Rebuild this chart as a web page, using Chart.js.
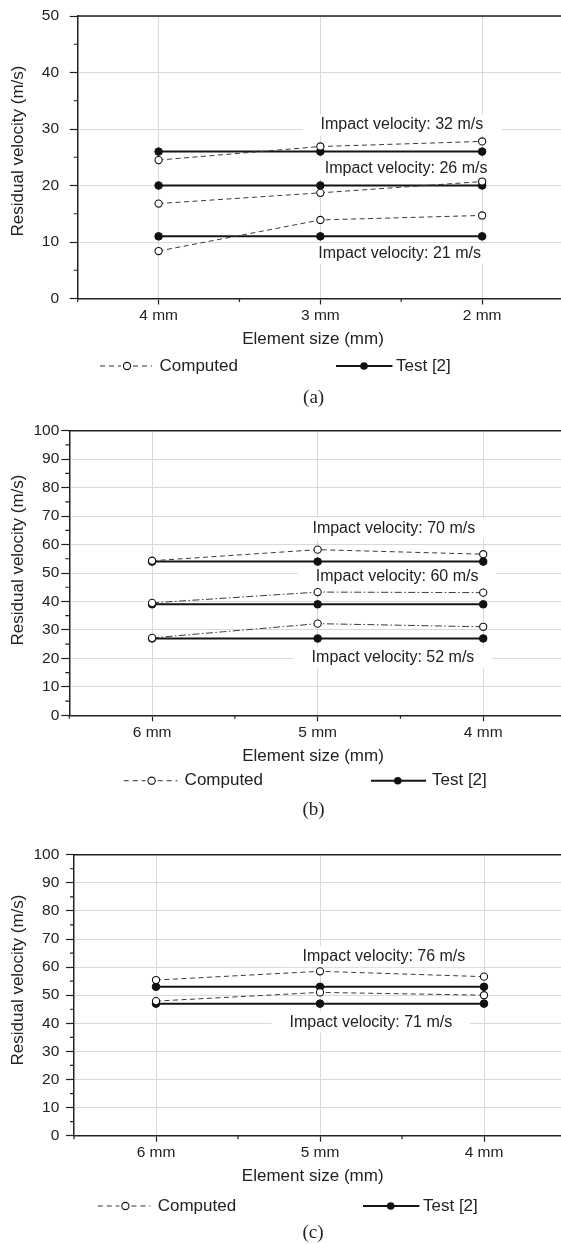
<!DOCTYPE html>
<html>
<head>
<meta charset="utf-8">
<script src="https://cdn.jsdelivr.net/npm/chart.js@4.4.1/dist/chart.umd.min.js"></script>
<style>
  html, body { margin: 0; padding: 0; background: #fff; }
  body { width: 561px; height: 1244px; position: relative; overflow: hidden; }
  .panel { position: absolute; left: 0; width: 561px; overflow: hidden; }
  canvas { display: block; }
</style>
</head>
<body>
<div class="panel" style="top:0px;height:410px"><canvas id="ca" width="563" height="410" style="width:563px;height:410px"></canvas></div>
<div class="panel" style="top:410px;height:420px"><canvas id="cb" width="566" height="420" style="width:566px;height:420px"></canvas></div>
<div class="panel" style="top:830px;height:414px"><canvas id="cc" width="566" height="414" style="width:566px;height:414px"></canvas></div>
<script>
// ---------------- data ----------------
const categoriesA = ['4 mm', '3 mm', '2 mm'];
const categoriesBC = ['6 mm', '5 mm', '4 mm'];
const yTicksA = [0, 10, 20, 30, 40, 50];
const yTicksBC = [0, 10, 20, 30, 40, 50, 60, 70, 80, 90, 100];

// panel (a)
const computedA32 = [24.5, 26.9, 27.8];
const computedA26 = [16.8, 18.7, 20.7];
const computedA21 = [8.4, 13.9, 14.7];
const testA32 = [26, 26, 26];
const testA26 = [20, 20, 20];
const testA21 = [11, 11, 11];
const labelsA = ['Impact velocity: 32 m/s', 'Impact velocity: 26 m/s', 'Impact velocity: 21 m/s'];

// panel (b)
const computedB70 = [54.3, 58.2, 56.6];
const computedB60 = [39.5, 43.3, 43.1];
const computedB52 = [27.2, 32.2, 31.1];
const testB70 = [54, 54, 54];
const testB60 = [39, 39, 39];
const testB52 = [27, 27, 27];
const labelsB = ['Impact velocity: 70 m/s', 'Impact velocity: 60 m/s', 'Impact velocity: 52 m/s'];

// panel (c)
const computedC76 = [55.4, 58.5, 56.6];
const computedC71 = [47.9, 51.0, 50.0];
const testC76 = [53, 53, 53];
const testC71 = [47, 47, 47];
const labelsC = ['Impact velocity: 76 m/s', 'Impact velocity: 71 m/s'];

const legendComputed = 'Computed';
const legendTest = 'Test [2]';
const xTitle = 'Element size (mm)';
const yTitle = 'Residual velocity (m/s)';

// ---------------- layout / style ----------------
const SANS = "'Liberation Sans', Arial, Helvetica, sans-serif";
const SERIF = "'Liberation Serif', 'Times New Roman', serif";
const AXIS = '#222';
const GRID = '#d9d9d9';
const DASH = [5, 3.5];
const DASHDOT = [7, 2.5, 1.5, 2.5];

const panels = [
  { id: 'ca', H: 410, top: 16, bottom: 298.5, left: 77.7, yMax: 50, yTicks: yTicksA, yPad: 10.7,
    cats: categoriesA,
    computed: [computedA32, computedA26, computedA21], dashes: [DASH, DASH, DASH],
    tests: [testA32, testA26, testA21],
    labels: labelsA, labelAt: [[2.504, 30.7], [2.53, 23.0], [2.49, 7.9]],
    legY: 366, legC: [100, 152, 127, 159.5], legT: [336, 392.5, 364, 396],
    xTitleX: 313, yTitleY: 151, caption: '(a)', capX: 313.6, capY: 398 },
  { id: 'cb', H: 420, top: 20.7, bottom: 305.3, left: 69.3, yMax: 100, yTicks: yTicksBC, yPad: 2,
    cats: categoriesBC,
    computed: [computedB70, computedB60, computedB52], dashes: [DASH, DASHDOT, DASHDOT],
    tests: [testB70, testB60, testB52],
    labels: labelsB, labelAt: [[2.46, 65.7], [2.48, 48.7], [2.455, 20.2]],
    legY: 370.7, legC: [123.7, 177.4, 151.6, 184.6], legT: [371, 426, 397.8, 432],
    xTitleX: 313, yTitleY: 150, caption: '(b)', capX: 313.6, capY: 400 },
  { id: 'cc', H: 414, top: 24.7, bottom: 305.7, left: 74, yMax: 100, yTicks: yTicksBC, yPad: 6.7,
    cats: categoriesBC,
    computed: [computedC76, computedC71], dashes: [DASH, DASH],
    tests: [testC76, testC71],
    labels: labelsC, labelAt: [[2.39, 63.7], [2.31, 40.4]],
    legY: 376, legC: [97.8, 150.5, 125.4, 157.7], legT: [363, 419.4, 390.7, 423],
    xTitleX: 312.7, yTitleY: 150, caption: '(c)', capX: 313, capY: 403.3 }
];

const X_AXIS_H = 40;

function toPoints(vals) { return vals.map((v, i) => ({ x: i + 1, y: v })); }

function clearPadding(s) {
  s.paddingTop = 0; s.paddingBottom = 0; s.paddingLeft = 0; s.paddingRight = 0;
}

function makeDecor(p) {
  return {
    id: 'decor_' + p.id,
    beforeDatasetsDraw(chart) {
      const ctx = chart.ctx;
      const xs = chart.scales.x, ys = chart.scales.y;
      ctx.save();
      ctx.font = '16px ' + SANS;
      ctx.textAlign = 'center';
      ctx.textBaseline = 'middle';
      p.labels.forEach((t, i) => {
        const cx = xs.getPixelForValue(p.labelAt[i][0]);
        const cy = ys.getPixelForValue(p.labelAt[i][1]);
        const w = ctx.measureText(t).width + 36;
        ctx.fillStyle = '#fff';
        ctx.fillRect(cx - w / 2, cy - 10.5, w, 21);
        ctx.fillStyle = '#222';
        ctx.fillText(t, cx, cy);
      });
      ctx.restore();
    },
    afterDraw(chart) {
      const ctx = chart.ctx;
      const a = chart.chartArea;
      const xs = chart.scales.x, ys = chart.scales.y;
      ctx.save();
      // top frame line
      ctx.strokeStyle = AXIS;
      ctx.lineWidth = 1.5;
      ctx.beginPath();
      ctx.moveTo(a.left - 0.75, a.top);
      ctx.lineTo(a.right + 2, a.top);
      ctx.stroke();
      // minor ticks
      ctx.lineWidth = 1.2;
      ctx.beginPath();
      for (let v = 5; v < p.yMax; v += 10) {
        const y = ys.getPixelForValue(v);
        ctx.moveTo(a.left, y); ctx.lineTo(a.left - 4, y);
      }
      for (let v = 0.5; v <= 3.5; v += 1) {
        const x = xs.getPixelForValue(v);
        ctx.moveTo(x, a.bottom); ctx.lineTo(x, a.bottom + 3.5);
      }
      ctx.stroke();
      // axis titles
      ctx.fillStyle = '#222';
      ctx.font = '17px ' + SANS;
      ctx.textAlign = 'center';
      ctx.textBaseline = 'middle';
      ctx.fillText(xTitle, p.xTitleX, a.bottom + 41);
      ctx.save();
      ctx.translate(18.3, p.yTitleY);
      ctx.rotate(-Math.PI / 2);
      ctx.fillText(yTitle, 0, 0);
      ctx.restore();
      // legend
      const ly = p.legY;
      ctx.strokeStyle = '#333';
      ctx.lineWidth = 1;
      ctx.setLineDash([5, 4]);
      ctx.beginPath();
      ctx.moveTo(p.legC[0], ly); ctx.lineTo(p.legC[2] - 6, ly);
      ctx.moveTo(p.legC[2] + 6, ly); ctx.lineTo(p.legC[1], ly);
      ctx.stroke();
      ctx.setLineDash([]);
      ctx.beginPath();
      ctx.arc(p.legC[2], ly, 3.6, 0, Math.PI * 2);
      ctx.fillStyle = '#fff'; ctx.fill();
      ctx.strokeStyle = '#111'; ctx.lineWidth = 1.1; ctx.stroke();
      ctx.strokeStyle = '#151515';
      ctx.lineWidth = 2;
      ctx.beginPath();
      ctx.moveTo(p.legT[0], ly); ctx.lineTo(p.legT[1], ly);
      ctx.stroke();
      ctx.beginPath();
      ctx.arc(p.legT[2], ly, 3.8, 0, Math.PI * 2);
      ctx.fillStyle = '#111'; ctx.fill();
      ctx.fillStyle = '#222';
      ctx.textAlign = 'left';
      ctx.font = '17px ' + SANS;
      ctx.fillText(legendComputed, p.legC[3], ly);
      ctx.fillText(legendTest, p.legT[3], ly);
      // caption
      ctx.font = '19px ' + SERIF;
      ctx.textAlign = 'center';
      ctx.fillText(p.caption, p.capX, p.capY);
      ctx.restore();
    }
  };
}

panels.forEach(p => {
  const datasets = [];
  p.computed.forEach((vals, i) => {
    datasets.push({
      label: legendComputed, data: toPoints(vals),
      borderColor: '#3a3a3a', borderWidth: 1, borderDash: p.dashes[i],
      pointRadius: 3.6, pointBorderWidth: 1.1, pointBackgroundColor: '#fff', pointBorderColor: '#111',
      tension: 0, fill: false
    });
  });
  p.tests.forEach(vals => {
    datasets.push({
      label: legendTest, data: toPoints(vals),
      borderColor: '#151515', borderWidth: 2,
      pointRadius: 3.8, pointBorderWidth: 1, pointBackgroundColor: '#111', pointBorderColor: '#111',
      tension: 0, fill: false
    });
  });

  new Chart(document.getElementById(p.id), {
    type: 'line',
    data: { datasets },
    options: {
      responsive: false,
      animation: false,
      events: [],
      layout: { autoPadding: false, padding: { top: p.top, right: 0, left: 0, bottom: p.H - p.bottom - X_AXIS_H } },
      plugins: { legend: { display: false }, tooltip: { enabled: false }, title: { display: false } },
      scales: {
        x: {
          type: 'linear', min: 0.5, max: 3.5,
          afterBuildTicks: s => { s.ticks = p.cats.map((c, i) => ({ value: i + 1 })); },
          afterFit: s => { s.height = X_AXIS_H; clearPadding(s); },
          grid: { color: GRID, lineWidth: 1, tickColor: AXIS, tickWidth: 1.2, tickLength: 6, drawTicks: true },
          border: { color: AXIS, width: 1.5 },
          ticks: {
            autoSkip: false, maxRotation: 0, minRotation: 0, padding: 2,
            color: '#222', font: { family: SANS, size: 15.5 },
            callback: v => p.cats[Math.round(v) - 1]
          }
        },
        y: {
          type: 'linear', min: 0, max: p.yMax,
          afterBuildTicks: s => { s.ticks = p.yTicks.map(v => ({ value: v })); },
          afterFit: s => { s.width = p.left; clearPadding(s); },
          grid: { color: GRID, lineWidth: 1, tickColor: AXIS, tickWidth: 1.2, tickLength: 8, drawTicks: true },
          border: { color: AXIS, width: 1.5 },
          ticks: {
            padding: p.yPad, color: '#222', font: { family: SANS, size: 15.5 },
            callback: v => String(v)
          }
        }
      }
    },
    plugins: [makeDecor(p)]
  });
});
</script>
</body>
</html>
